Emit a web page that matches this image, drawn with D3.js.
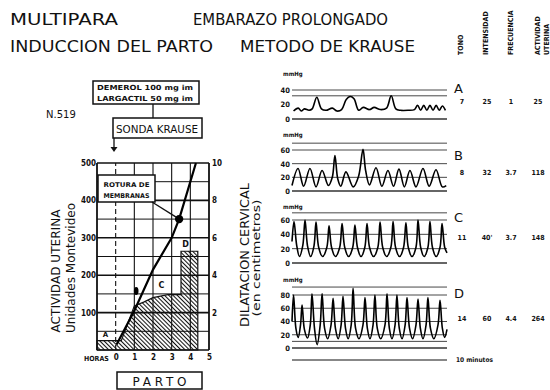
<!DOCTYPE html>
<html>
<head>
<meta charset="utf-8">
<script src="https://cdn.jsdelivr.net/npm/d3@7"></script>
<style>
  body { margin: 0; background: #fff; }
  svg { display: block; }
  text { font-family: "DejaVu Sans", sans-serif; fill: #111; }
</style>
</head>
<body>
<div id="chart"></div>
<script>
// ---------- data ----------
// left chart: horas vs actividad uterina / dilatacion
const hourTicks = [0, 1, 2, 3, 4, 5];
const activityTicks = [100, 200, 300, 400, 500];
const dilationTicks = [2, 4, 6, 8, 10];
const dilationHours = [0.05, 1, 2, 3, 3.4, 4.3];
const dilationCm = [0.3, 2.1, 4.3, 6, 7, 10];
const activityHours = [-1, 0, 0.3, 1, 1.5, 2, 2.8, 3.5, 3.5, 4.4];
const activityUnits = [25, 25, 25, 118, 128, 140, 148, 148, 264, 264];

// right side: tracings A-D
const phases = ["A", "B", "C", "D"];
const tono = ["7", "8", "11", "14"];
const intensidad = ["25", "32", "40'", "60"];
const frecuencia = ["1", "3.7", "3.7", "4.4"];
const actividad = ["25", "118", "148", "264"];
const headers = ["TONO", "INTENSIDAD", "FRECUENCIA", "ACTIVIDAD", "UTERINA"];

const ticksA = [0, 20, 40];
const ticksB = [0, 20, 40, 60];
const ticksC = [0, 20, 40, 60];
const ticksD = [0, 20, 40, 60, 80];
const gridA = [0, 32, 40];
const gridB = [0, 20, 40, 60, 70];
const gridC = [0, 20, 40, 60, 70];
const gridD = [0, 10, 20, 40, 60, 80, 92];

// [minutes, mmHg]
const traceA = [[0.1,11],[0.4,15],[0.6,11],[0.8,14],[1.1,12],[1.3,14],[1.6,30],[1.9,14],[2.2,12],[2.6,15],
  [2.9,11],[3.2,13],[3.5,27],[3.75,31],[4.0,28],[4.3,12],[4.6,16],[5.0,13],[5.3,16],[5.7,13],[6.1,15],
  [6.4,32],[6.7,14],[7.0,12],[7.5,12],[7.9,13],[8.1,19],[8.3,12],[8.5,19],[8.7,12],[8.9,19],[9.1,12],
  [9.3,19],[9.5,12],[9.7,18],[9.9,12]];
const traceB = [[0,8],[0.39,33],[0.75,7],[1.16,33],[1.55,6],[1.94,30],[2.35,8],[2.6,20],[2.77,52],[2.95,18],
  [3.15,7],[3.48,28],[3.95,6],[4.3,22],[4.58,61],[4.75,30],[5.0,9],[5.42,34],[5.8,7],[6.19,30],[6.55,7],
  [6.9,32],[7.25,6],[7.61,30],[8.0,6],[8.45,33],[8.85,7],[9.29,31],[9.7,6],[9.95,8]];
const traceC = [[0,30],[0.13,58],[0.3,25],[0.48,9],[0.7,25],[0.84,60],[1.0,24],[1.2,9],[1.42,24],[1.55,57],
  [1.72,22],[1.97,9],[2.25,22],[2.39,52],[2.55,22],[2.8,9],[3.08,22],[3.23,55],[3.4,22],[3.65,9],[3.92,22],
  [4.06,53],[4.22,22],[4.45,9],[4.7,22],[4.84,55],[5.0,22],[5.26,9],[5.54,22],[5.68,57],[5.85,22],[6.1,9],
  [6.38,22],[6.52,58],[6.68,22],[6.94,9],[7.2,22],[7.35,56],[7.5,22],[7.74,9],[8.0,22],[8.13,60],[8.3,22],
  [8.52,9],[8.77,22],[8.9,58],[9.06,22],[9.3,9],[9.55,22],[9.68,55],[9.85,22],[10,14]];
const traceD = [[0,40],[0.1,80],[0.25,30],[0.4,16],[0.55,35],[0.65,65],[0.8,28],[1.0,15],[1.18,35],[1.29,82],
  [1.45,30],[1.62,5],[1.82,35],[1.94,82],[2.1,30],[2.3,14],[2.52,35],[2.65,75],[2.8,30],[2.98,14],[3.17,35],
  [3.29,78],[3.45,30],[3.62,14],[3.82,35],[3.94,90],[4.1,30],[4.32,14],[4.58,35],[4.71,76],[4.86,30],
  [5.03,14],[5.23,35],[5.35,80],[5.5,30],[5.72,14],[6.0,35],[6.13,82],[6.28,30],[6.45,14],[6.65,35],
  [6.77,80],[6.92,30],[7.1,14],[7.3,35],[7.42,76],[7.58,30],[7.78,14],[8.0,35],[8.13,74],[8.28,30],
  [8.45,14],[8.65,35],[8.77,76],[8.93,30],[9.15,14],[9.42,35],[9.55,72],[9.7,30],[9.85,16],[10,28]];

// ---------- svg ----------
const svg = d3.select("#chart").append("svg").attr("width", 550).attr("height", 390);

svg.append("defs").append("pattern")
  .attr("id", "hatch").attr("patternUnits", "userSpaceOnUse")
  .attr("width", 3).attr("height", 3).attr("patternTransform", "rotate(-45)")
  .append("line").attr("x1", 0.5).attr("y1", 0).attr("x2", 0.5).attr("y2", 3)
  .attr("stroke", "#111").attr("stroke-width", 1.1);

// titles
const titles = [
  ["MULTIPARA", 10, 25, 108], ["EMBARAZO PROLONGADO", 193, 25, 195],
  ["INDUCCION DEL PARTO", 10, 52, 203], ["METODO DE KRAUSE", 240, 52, 175]
];
svg.selectAll(".title").data(titles).join("text")
  .attr("class", "title").attr("x", d => d[1]).attr("y", d => d[2])
  .attr("textLength", d => d[3]).attr("lengthAdjust", "spacingAndGlyphs")
  .style("font-size", "16px").text(d => d[0]);

// ---------- left chart ----------
const x = d3.scaleLinear().domain([-1, 5]).range([97, 209]);
const y = d3.scaleLinear().domain([0, 500]).range([350, 163]);
const yR = d3.scaleLinear().domain([0, 10]).range([350, 163]);

const left = svg.append("g");

// grid
left.selectAll(".hg").data(d3.range(0, 501, 50)).join("line")
  .attr("x1", x(-1)).attr("x2", x(5)).attr("y1", d => y(d)).attr("y2", d => y(d))
  .attr("stroke", "#111").attr("stroke-width", d => d % 100 === 0 ? 1.6 : 1);
left.selectAll(".vg").data(d3.range(-1, 6)).join("line")
  .attr("x1", d => x(d)).attr("x2", d => x(d)).attr("y1", y(0)).attr("y2", y(500))
  .attr("stroke", "#111").attr("stroke-width", d => (d === -1 || d === 5) ? 1.8 : 1.1)
  .attr("stroke-dasharray", d => d === 0 ? "5,3" : null);

// activity area
const actData = activityHours.map((h, i) => [h, activityUnits[i]]);
left.append("path").datum(actData)
  .attr("d", d3.area().x(d => x(d[0])).y0(y(0)).y1(d => y(d[1])))
  .attr("fill", "url(#hatch)").attr("stroke", "#111").attr("stroke-width", 1.2);

// dilation line
const dilData = dilationHours.map((h, i) => [h, dilationCm[i]]);
left.append("path").datum(dilData)
  .attr("d", d3.line().x(d => x(d[0])).y(d => yR(d[1])))
  .attr("fill", "none").attr("stroke", "#000").attr("stroke-width", 2.2);
left.append("circle").attr("cx", x(3.4)).attr("cy", yR(7)).attr("r", 4.2).attr("fill", "#000");

// phase labels inside
left.append("text").attr("x", x(-0.55)).attr("y", y(35)).attr("text-anchor", "middle")
  .style("font-size", "7px").style("font-weight", "bold").text("A");
left.append("ellipse").attr("cx", x(1.1)).attr("cy", y(158)).attr("rx", 2.3).attr("ry", 4).attr("fill", "#000");
left.append("text").attr("x", x(2.45)).attr("y", y(165)).attr("text-anchor", "middle")
  .style("font-size", "8px").style("font-weight", "bold").text("C");
left.append("text").attr("x", x(3.75)).attr("y", y(276)).attr("text-anchor", "middle")
  .style("font-size", "8px").style("font-weight", "bold").text("D");

// axes
const axL = left.append("g").attr("transform", `translate(${x(-1)},0)`)
  .call(d3.axisLeft(y).tickValues(activityTicks).tickSize(0).tickPadding(1));
const axR = left.append("g").attr("transform", `translate(${x(5)},0)`)
  .call(d3.axisRight(yR).tickValues(dilationTicks).tickSize(0).tickPadding(3));
const axB = left.append("g").attr("transform", `translate(0,${y(0)})`)
  .call(d3.axisBottom(x).tickValues(hourTicks).tickFormat(d3.format("d")).tickSize(0).tickPadding(4));
[axL, axR, axB].forEach(a => {
  a.select(".domain").remove();
  a.selectAll("text").style("font-size", "8px").style("font-weight", "bold")
    .style("font-family", "'DejaVu Sans Condensed', sans-serif").attr("fill", "#111");
});
left.append("text").attr("x", 84).attr("y", 361).style("font-size", "7px").style("font-weight", "bold")
  .style("font-family", "'DejaVu Sans Condensed', sans-serif").text("HORAS");

// rotated axis titles
const rot = [
  ["ACTIVIDAD UTERINA", 60, 271, 13, 123],
  ["Unidades Montevideo", 75, 268, 12, 130],
  ["DILATACION CERVICAL", 249, 255, 13, 144],
  ["(en centimetros)", 260, 258, 11, 117]
];
svg.selectAll(".rot").data(rot).join("text")
  .attr("class", "rot").attr("transform", d => `translate(${d[1]},${d[2]}) rotate(-90)`)
  .attr("text-anchor", "middle").attr("textLength", d => d[4]).attr("lengthAdjust", "spacingAndGlyphs")
  .style("font-size", d => d[3] + "px").text(d => d[0]);

// boxes and notes
function box(x0, y0, w, h) {
  svg.append("rect").attr("x", x0).attr("y", y0).attr("width", w).attr("height", h)
    .attr("fill", "#fff").attr("stroke", "#111").attr("stroke-width", 1.5);
}
box(93, 81, 106, 23);
svg.append("text").attr("x", 97).attr("y", 90).attr("textLength", 96).attr("lengthAdjust", "spacingAndGlyphs")
  .style("font-size", "7px").style("font-weight", "bold").text("DEMEROL 100 mg im");
svg.append("text").attr("x", 97).attr("y", 101).attr("textLength", 96).attr("lengthAdjust", "spacingAndGlyphs")
  .style("font-size", "7px").style("font-weight", "bold").text("LARGACTIL 50 mg im");
svg.append("line").attr("x1", 153).attr("x2", 153).attr("y1", 104).attr("y2", 118).attr("stroke", "#111").attr("stroke-width", 1.3);
box(113, 118, 89, 20);
svg.append("text").attr("x", 157).attr("y", 133).attr("text-anchor", "middle")
  .attr("textLength", 82).attr("lengthAdjust", "spacingAndGlyphs")
  .style("font-size", "11px").text("SONDA KRAUSE");
svg.append("line").attr("x1", 114).attr("x2", 114).attr("y1", 138).attr("y2", 150).attr("stroke", "#111").attr("stroke-width", 1.3);
svg.append("path").attr("d", "M110.5,147 L117.5,147 L114,152 Z").attr("fill", "#111");
svg.append("text").attr("x", 46).attr("y", 118).style("font-size", "10px").text("N.519");

box(98, 175, 57, 27);
svg.append("text").attr("x", 126.5).attr("y", 187).attr("text-anchor", "middle")
  .attr("textLength", 46).attr("lengthAdjust", "spacingAndGlyphs")
  .style("font-size", "6.5px").style("font-weight", "bold").text("ROTURA DE");
svg.append("text").attr("x", 126.5).attr("y", 198).attr("text-anchor", "middle")
  .attr("textLength", 46).attr("lengthAdjust", "spacingAndGlyphs")
  .style("font-size", "6.5px").style("font-weight", "bold").text("MEMBRANAS");
svg.append("line").attr("x1", 152).attr("y1", 202).attr("x2", x(3.4) - 3).attr("y2", yR(7) - 2)
  .attr("stroke", "#111").attr("stroke-width", 1.3);

box(117, 372, 85, 17);
svg.append("text").attr("x", 159.5).attr("y", 385.5).attr("text-anchor", "middle")
  .attr("textLength", 54).attr("lengthAdjust", "spacing")
  .style("font-size", "12px").text("PARTO");

// ---------- right tracings ----------
const tx = d3.scaleLinear().domain([0, 10]).range([292, 447]);
const panels = [
  { data: traceA, ticks: ticksA, grid: gridA, dom: [0, 40], rng: [119, 90], unitY: 76, letterY: 93, valY: 104 },
  { data: traceB, ticks: ticksB, grid: gridB, dom: [0, 60], rng: [191, 150], unitY: 137, letterY: 160, valY: 175 },
  { data: traceC, ticks: ticksC, grid: gridC, dom: [0, 60], rng: [263, 220], unitY: 209, letterY: 222, valY: 240 },
  { data: traceD, ticks: ticksD, grid: gridD, dom: [0, 80], rng: [348, 295], unitY: 282, letterY: 298, valY: 321 }
];
const valueCols = [462, 487, 511, 538];
const headerCols = [460, 485, 510, 537, 546];

panels.forEach((p, i) => {
  const py = d3.scaleLinear().domain(p.dom).range(p.rng);
  const g = svg.append("g");
  g.selectAll("line").data(p.grid).join("line")
    .attr("x1", tx(0)).attr("x2", tx(10)).attr("y1", d => py(d)).attr("y2", d => py(d))
    .attr("stroke", "#333").attr("stroke-width", d => d === 0 ? 1.3 : 0.9);
  const ax = g.append("g").attr("transform", `translate(${tx(0) - 1},0)`)
    .call(d3.axisLeft(py).tickValues(p.ticks).tickSize(0).tickPadding(1));
  ax.select(".domain").remove();
  ax.selectAll("text").style("font-size", "7.5px").style("font-weight", "bold")
    .style("font-family", "'DejaVu Sans Condensed', sans-serif").attr("fill", "#111");
  g.append("text").attr("x", 283).attr("y", p.unitY).style("font-size", "6px").style("font-weight", "bold")
    .style("font-family", "'DejaVu Sans Condensed', sans-serif").text("mmHg");
  g.append("path").datum(p.data)
    .attr("d", d3.line().x(d => tx(d[0])).y(d => py(d[1])).curve(d3.curveCatmullRom.alpha(0.5)))
    .attr("fill", "none").attr("stroke", "#000").attr("stroke-width", 1.6);

  svg.append("text").attr("x", 454).attr("y", p.letterY).style("font-size", "13px").text(phases[i]);
  [tono[i], intensidad[i], frecuencia[i], actividad[i]].forEach((v, j) => {
    svg.append("text").attr("x", valueCols[j]).attr("y", p.valY).attr("text-anchor", "middle")
      .style("font-size", "7px").style("font-weight", "bold")
      .style("font-family", "'DejaVu Sans Condensed', sans-serif").text(v);
  });
});

// column headers
svg.selectAll(".hdr").data(headers).join("text")
  .attr("class", "hdr").attr("transform", (d, i) => `translate(${headerCols[i] + 3},55) rotate(-90)`)
  .style("font-size", "7px").style("font-weight", "bold")
  .style("font-family", "'DejaVu Sans Condensed', sans-serif").text(d => d);

// time bar
svg.append("line").attr("x1", tx(0)).attr("x2", tx(10)).attr("y1", 360).attr("y2", 360)
  .attr("stroke", "#111").attr("stroke-width", 1.2);
svg.append("text").attr("x", 456).attr("y", 362).style("font-size", "6.5px").style("font-weight", "bold")
  .style("font-family", "'DejaVu Sans Condensed', sans-serif").text("10 minutos");
</script>
</body>
</html>
